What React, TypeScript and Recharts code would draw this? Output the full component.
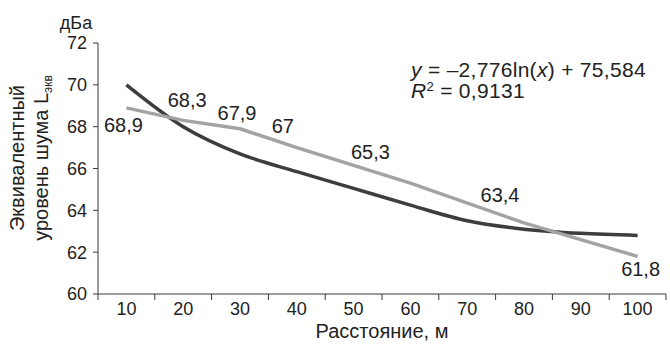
import React from 'react';
import { LineChart, Line, XAxis, YAxis } from 'recharts';

const distances = [10, 20, 30, 40, 50, 60, 70, 80, 90, 100];
const modelLevels = [70.0, 68.0, 66.7, 65.85, 65.05, 64.25, 63.5, 63.1, 62.9, 62.8];
const measuredLevels: (number | null)[] = [68.9, 68.3, 67.9, 67.0, null, 65.3, null, 63.4, null, 61.8];
const yTicks = [60, 62, 64, 66, 68, 70, 72];
const boundaryTicks = [5, 15, 25, 35, 45, 55, 65, 75, 85, 95, 105];

// label placement offsets (style only), relative to each point
const labelOffsets: ([number, number] | null)[] = [
  [-3, 17], [4, -20], [-3, -16], [-14, -22], null, [-40, -31], null, [-24, -28], null, [3, 13],
];

const data = distances.map((d, i) => ({ d, model: modelLevels[i], measured: measuredLevels[i] }));

const FONT = '"Liberation Sans", Arial, sans-serif';
const TEXT = '#222';
const AXIS = '#3a3a3a';

const fmt = (v: number) => String(v).replace('.', ',');

const MeasuredLabel = (props: any) => {
  const { x, y, value, index } = props;
  if (value === null || value === undefined) return null;
  const off = labelOffsets[index] || [0, -15];
  return (
    <text
      x={x + off[0]}
      y={y + off[1]}
      textAnchor="middle"
      dominantBaseline="central"
      fontSize={20}
      fontFamily={FONT}
      fill={TEXT}
    >
      {fmt(value)}
    </text>
  );
};

// tick marks sit on category boundaries; the label is drawn midway to the next boundary
const BoundaryTick = (props: any) => {
  const { x, y, index, width, visibleTicksCount } = props;
  const count = visibleTicksCount || boundaryTicks.length;
  if (index >= distances.length) return null;
  const step = (typeof width === 'number' && width > 0 ? width : 568) / (count - 1);
  return (
    <text x={x + step / 2} y={y} dy="0.71em" textAnchor="middle" fontSize={18} fontFamily={FONT} fill={TEXT}>
      {distances[index]}
    </text>
  );
};

export default function App() {
  return (
    <div style={{ position: 'absolute', left: 0, top: 0, width: 670, height: 348, background: '#fff', fontFamily: FONT }}>
      <LineChart width={670} height={348} data={data} margin={{ top: 43, right: 4, bottom: 0, left: 48 }}>
        <XAxis
          dataKey="d"
          type="number"
          domain={[5, 105]}
          ticks={boundaryTicks}
          interval={0}
          tickSize={6}
          tickMargin={2}
          height={54}
          stroke={AXIS}
          tick={<BoundaryTick />}
          label={{ value: 'Расстояние, м', position: 'insideBottom', offset: 10, fill: TEXT, fontSize: 20, fontFamily: FONT }}
        />
        <YAxis
          domain={[60, 72]}
          ticks={yTicks}
          width={50}
          tickSize={5}
          tickMargin={6}
          stroke={AXIS}
          tick={{ fontSize: 18, fill: TEXT, fontFamily: FONT }}
        />
        <Line
          dataKey="model"
          type="monotone"
          stroke="#3d3d3d"
          strokeWidth={3.5}
          dot={false}
          isAnimationActive={false}
        />
        <Line
          dataKey="measured"
          type="linear"
          connectNulls
          stroke="#a3a3a3"
          strokeWidth={3.5}
          dot={false}
          isAnimationActive={false}
          label={<MeasuredLabel />}
        />
      </LineChart>
      <div style={{ position: 'absolute', left: 76, top: 23, transform: 'translate(-50%,-50%)', fontSize: 18, color: TEXT, whiteSpace: 'nowrap' }}>
        дБа
      </div>
      <div
        style={{
          position: 'absolute',
          left: 30,
          top: 158,
          transform: 'translate(-50%,-50%) rotate(-90deg)',
          fontSize: 20,
          lineHeight: '24px',
          color: TEXT,
          textAlign: 'center',
          whiteSpace: 'nowrap',
        }}
      >
        <div>Эквивалентный</div>
        <div>
          уровень шума L<sub style={{ fontSize: 12, verticalAlign: 'baseline', position: 'relative', top: 4 }}>экв</sub>
        </div>
      </div>
      <div style={{ position: 'absolute', left: 411, top: 59, fontSize: 21, lineHeight: '21px', letterSpacing: '0.3px', color: TEXT, whiteSpace: 'nowrap' }}>
        <div>
          <i>y</i> = –2,776ln(<i>x</i>) + 75,584
        </div>
        <div>
          <i>R</i>
          <sup style={{ fontSize: 13, verticalAlign: 'baseline', position: 'relative', top: -7 }}>2</sup> = 0,9131
        </div>
      </div>
    </div>
  );
}
